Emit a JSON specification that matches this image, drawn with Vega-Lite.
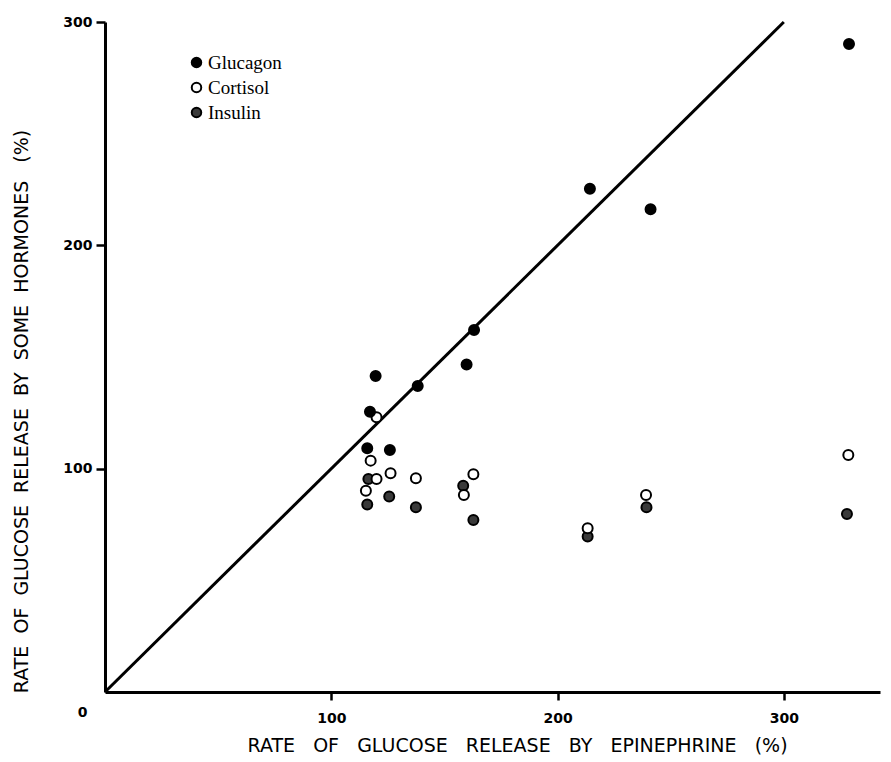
{
  "$schema": "https://vega.github.io/schema/vega-lite/v6.json",
  "width": 775,
  "height": 670,
  "autosize": "none",
  "padding": {"left": 105, "top": 22, "right": 11, "bottom": 70},
  "background": "white",
  "config": {"view": {"stroke": null}},
  "datasets": {
    "diag": [{"x": 0, "y": 0}, {"x": 300, "y": 300}],
    "points": [
      {"hormone": "Cortisol", "x": 120.0, "y": 123.0},
      {"hormone": "Glucagon", "x": 117.1, "y": 125.5},
      {"hormone": "Glucagon", "x": 119.6, "y": 141.5},
      {"hormone": "Glucagon", "x": 115.9, "y": 109.1},
      {"hormone": "Glucagon", "x": 125.9, "y": 108.4},
      {"hormone": "Glucagon", "x": 138.2, "y": 137.0},
      {"hormone": "Glucagon", "x": 159.8, "y": 146.6},
      {"hormone": "Glucagon", "x": 163.1, "y": 162.1},
      {"hormone": "Glucagon", "x": 214.3, "y": 225.3},
      {"hormone": "Glucagon", "x": 241.1, "y": 216.2},
      {"hormone": "Glucagon", "x": 328.8, "y": 290.2},
      {"hormone": "Insulin", "x": 116.4, "y": 95.4},
      {"hormone": "Insulin", "x": 125.6, "y": 87.5},
      {"hormone": "Insulin", "x": 115.9, "y": 84.0},
      {"hormone": "Insulin", "x": 137.4, "y": 82.7},
      {"hormone": "Insulin", "x": 158.3, "y": 92.4},
      {"hormone": "Insulin", "x": 162.8, "y": 77.0},
      {"hormone": "Insulin", "x": 239.3, "y": 82.7},
      {"hormone": "Insulin", "x": 213.3, "y": 69.6},
      {"hormone": "Insulin", "x": 327.9, "y": 79.7},
      {"hormone": "Cortisol", "x": 117.4, "y": 103.6},
      {"hormone": "Cortisol", "x": 120.0, "y": 95.4},
      {"hormone": "Cortisol", "x": 126.2, "y": 97.9},
      {"hormone": "Cortisol", "x": 115.3, "y": 90.1},
      {"hormone": "Cortisol", "x": 137.4, "y": 95.7},
      {"hormone": "Cortisol", "x": 162.8, "y": 97.5},
      {"hormone": "Cortisol", "x": 158.6, "y": 88.2},
      {"hormone": "Cortisol", "x": 239.1, "y": 88.2},
      {"hormone": "Cortisol", "x": 213.3, "y": 73.3},
      {"hormone": "Cortisol", "x": 328.5, "y": 106.1}
    ]
  },
  "encoding": {
    "x": {
      "field": "x",
      "type": "quantitative",
      "scale": {"domain": [0, 342.5], "nice": false, "zero": false},
      "axis": {
        "title": "RATE\u00a0\u00a0\u00a0OF\u00a0\u00a0\u00a0GLUCOSE\u00a0\u00a0\u00a0RELEASE\u00a0\u00a0\u00a0BY\u00a0\u00a0\u00a0EPINEPHRINE\u00a0\u00a0\u00a0(%)",
        "values": [0, 100, 200, 300],
        "format": "d",
        "grid": false,
        "domainColor": "black",
        "domainWidth": 3,
        "tickColor": "black",
        "tickWidth": 2.5,
        "tickSize": 8,
        "tickOpacity": {"condition": {"test": "datum.value == 0", "value": 0}, "value": 1},
        "labelOffset": {"condition": {"test": "datum.value == 0", "value": -23}, "value": 0},
        "labelPadding": {"condition": {"test": "datum.value == 0", "value": 5}, "value": 11},
        "labelFont": "DejaVu Sans",
        "labelFontSize": 14,
        "labelFontWeight": "bold",
        "labelColor": "black",
        "labelFlush": false,
        "titleFont": "DejaVu Sans",
        "titleFontSize": 19,
        "titleFontWeight": "normal",
        "titleColor": "black",
        "titlePadding": 11,
        "titleX": 412
      }
    },
    "y": {
      "field": "y",
      "type": "quantitative",
      "scale": {"domain": [0, 300], "nice": false, "zero": false},
      "axis": {
        "title": "RATE\u00a0\u00a0OF\u00a0\u00a0GLUCOSE\u00a0\u00a0RELEASE\u00a0\u00a0BY\u00a0\u00a0SOME\u00a0\u00a0HORMONES\u00a0\u00a0\u00a0(%)",
        "values": [100, 200, 300],
        "format": "d",
        "grid": false,
        "domainColor": "black",
        "domainWidth": 3,
        "tickColor": "black",
        "tickWidth": 2.5,
        "tickSize": 9,
        "labelPadding": 4,
        "labelFont": "DejaVu Sans",
        "labelFontSize": 14,
        "labelFontWeight": "bold",
        "labelColor": "black",
        "labelFlush": false,
        "titleFont": "DejaVu Sans",
        "titleFontSize": 19,
        "titleFontWeight": "normal",
        "titleColor": "black",
        "titlePadding": 31,
        "titleY": 389
      }
    }
  },
  "layer": [
    {
      "data": {"name": "diag"},
      "mark": {"type": "line", "color": "black", "strokeWidth": 3}
    },
    {
      "data": {"name": "points"},
      "mark": {"type": "point", "shape": "circle", "filled": true, "stroke": "black", "strokeWidth": 2, "size": 100, "opacity": 1},
      "encoding": {
        "fill": {
          "field": "hormone",
          "type": "nominal",
          "scale": {"domain": ["Glucagon", "Cortisol", "Insulin"], "range": ["black", "white", "#3a3a3a"]},
          "legend": {
            "title": null,
            "orient": "none",
            "legendX": 82,
            "legendY": 31,
            "padding": 0,
            "labelFont": "Liberation Serif",
            "labelFontSize": 19,
            "labelColor": "black",
            "labelOffset": 2,
            "symbolType": "circle",
            "symbolSize": 90,
            "symbolStrokeColor": "black",
            "symbolStrokeWidth": 2,
            "symbolOpacity": 1,
            "rowPadding": 5
          }
        }
      }
    }
  ]
}
